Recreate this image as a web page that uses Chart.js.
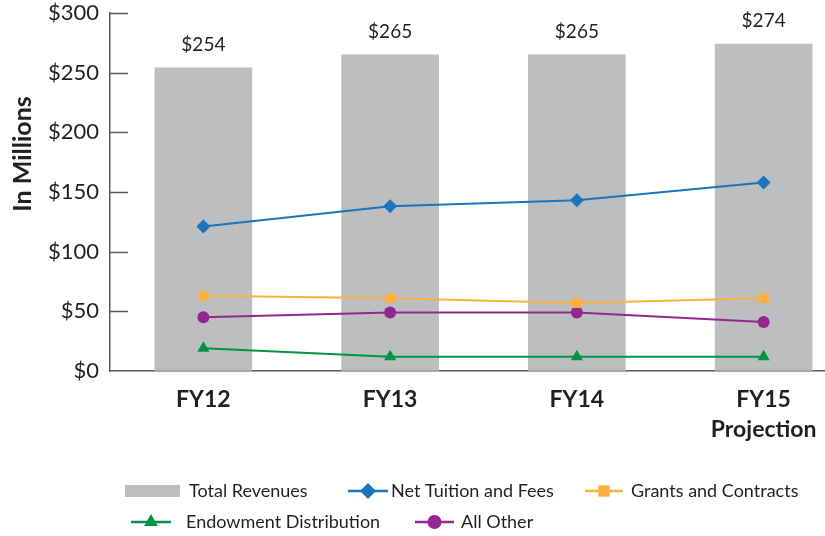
<!DOCTYPE html>
<html>
<head>
<meta charset="utf-8">
<script src="https://cdn.jsdelivr.net/npm/chart.js@4.4.1/dist/chart.umd.min.js"></script>
<style>
  html, body { margin: 0; padding: 0; background: #fff; overflow: hidden; }
  #clip { width: 825px; height: 536px; overflow: hidden; position: relative; }
  #box { width: 857px; height: 536px; position: absolute; left: 0; top: 0; }
</style>
</head>
<body>
<div id="clip"><div id="box"><canvas id="c"></canvas></div></div>
<script>
// ---- data ----
const categories = ['FY12', 'FY13', 'FY14', ['FY15', 'Projection']];
const totalRevenues = [254, 265, 265, 274];
const netTuition = [121, 138, 143, 158];
const grantsContracts = [63, 61, 57, 61];
const endowment = [19, 12, 12, 12];
const allOther = [45, 49, 49, 41];
const yTicks = [0, 50, 100, 150, 200, 250, 300];
const yTitle = 'In Millions';

const INK = '#231F20';
const AXIS = '#58595B';
const FONT = 'Lato, "Open Sans", sans-serif';

const lineDs = (label, data, color, style, r, order) => ({
  type: 'line', label, data, order,
  borderColor: color, backgroundColor: color, borderWidth: 2,
  pointStyle: style, pointRadius: r, pointHoverRadius: r,
  pointBackgroundColor: color, pointBorderColor: color, pointBorderWidth: 0,
  tension: 0, fill: false
});

// inward tick marks on y axis
const yTickMarks = {
  id: 'yTickMarks',
  afterDraw(chart) {
    const ctx = chart.ctx, y = chart.scales.y, left = chart.chartArea.left;
    ctx.save();
    ctx.strokeStyle = AXIS; ctx.lineWidth = 1.5;
    yTicks.forEach(v => {
      if (v === 0) return;
      const py = Math.round(y.getPixelForValue(v)) + 0.5;
      ctx.beginPath(); ctx.moveTo(left, py); ctx.lineTo(left + 18, py); ctx.stroke();
    });
    ctx.restore();
  }
};

// value labels over bars
const barLabels = {
  id: 'barLabels',
  afterDatasetsDraw(chart) {
    const ctx = chart.ctx;
    const meta = chart.getDatasetMeta(0);
    ctx.save();
    ctx.font = '19px ' + FONT; ctx.fillStyle = INK;
    ctx.textAlign = 'center'; ctx.textBaseline = 'middle';
    meta.data.forEach((el, i) => {
      ctx.fillText('$' + totalRevenues[i], el.x, el.y - 23);
    });
    ctx.restore();
  }
};

// rotated y-axis title
const yTitlePlugin = {
  id: 'yTitlePlugin',
  afterDraw(chart) {
    const ctx = chart.ctx;
    ctx.save();
    ctx.translate(23, 154); ctx.rotate(-Math.PI / 2);
    ctx.font = 'bold 25px ' + FONT; ctx.fillStyle = INK;
    ctx.textAlign = 'center'; ctx.textBaseline = 'middle';
    ctx.fillText(yTitle, 0, 0);
    ctx.restore();
  }
};

// custom legend (line + marker samples)
const legendPos = [
  { x0: 125, x1: 180, tx: 189, y: 491 },
  { x0: 348, x1: 388, tx: 391, y: 491 },
  { x0: 585, x1: 623, tx: 631, y: 491 },
  { x0: 131, x1: 171, tx: 186, y: 522 },
  { x0: 415, x1: 454, tx: 461, y: 522 }
];
const legendPlugin = {
  id: 'legendPlugin',
  afterDraw(chart) {
    const ctx = chart.ctx;
    ctx.save();
    chart.data.datasets.forEach((ds, i) => {
      const p = legendPos[i];
      if (ds.type === 'bar') {
        ctx.fillStyle = ds.backgroundColor;
        ctx.fillRect(p.x0, p.y - 6, p.x1 - p.x0, 12);
      } else {
        ctx.strokeStyle = ds.borderColor; ctx.lineWidth = 2.5;
        ctx.beginPath(); ctx.moveTo(p.x0, p.y); ctx.lineTo(p.x1, p.y); ctx.stroke();
        ctx.fillStyle = ds.backgroundColor;
        Chart.helpers.drawPoint(ctx, {
          pointStyle: ds.pointStyle, radius: ds.pointRadius + 1, rotation: 0, borderWidth: 0
        }, (p.x0 + p.x1) / 2, p.y);
      }
      ctx.font = '18px ' + FONT; ctx.fillStyle = INK;
      ctx.textAlign = 'left'; ctx.textBaseline = 'middle';
      ctx.fillText(ds.label, p.tx, p.y);
    });
    ctx.restore();
  }
};

new Chart(document.getElementById('c'), {
  data: {
    labels: categories,
    datasets: [
      { type: 'bar', label: 'Total Revenues', data: totalRevenues, order: 10,
        backgroundColor: '#BCBEC0', borderWidth: 0, barThickness: 97 },
      lineDs('Net Tuition and Fees', netTuition, '#1C75BC', 'rectRot', 7, 1),
      lineDs('Grants and Contracts', grantsContracts, '#FBB040', 'rect', 7, 2),
      lineDs('Endowment Distribution', endowment, '#009444', 'triangle', 7, 3),
      lineDs('All Other', allOther, '#92278F', 'circle', 6, 4)
    ]
  },
  options: {
    responsive: true, maintainAspectRatio: false, animation: false,
    layout: { autoPadding: false, padding: { top: 13, left: 0, right: 0, bottom: 0 } },
    plugins: { legend: { display: false }, tooltip: { enabled: false } },
    scales: {
      x: {
        type: 'category', offset: true,
        grid: { display: false, drawTicks: false },
        border: { display: true, color: AXIS, width: 1.5 },
        ticks: { color: INK, font: { family: FONT, size: 23, weight: 'bold', lineHeight: 1.3 }, padding: 14, maxRotation: 0, autoSkip: false },
        afterFit(s) { s.height = 165; s.paddingLeft = 0; s.paddingRight = 0; }
      },
      y: {
        min: 0, max: 300,
        afterBuildTicks(s) { s.ticks = yTicks.map(v => ({ value: v })); },
        grid: { display: true, drawOnChartArea: false, drawTicks: false },
        border: { display: true, color: AXIS, width: 1.5 },
        ticks: { color: INK, font: { family: FONT, size: 22 }, padding: 11, callback: v => '$' + v },
        afterFit(s) { s.width = 110; s.paddingTop = 0; s.paddingBottom = 0; }
      }
    }
  },
  plugins: [yTickMarks, barLabels, yTitlePlugin, legendPlugin]
});
</script>
</body>
</html>
